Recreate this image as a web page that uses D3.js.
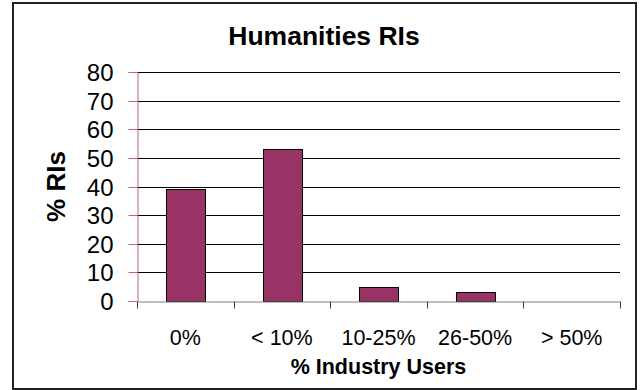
<!DOCTYPE html>
<html><head><meta charset="utf-8">
<script src="https://cdn.jsdelivr.net/npm/d3@7"></script>
<style>body{margin:0;background:#fff}svg{display:block}text{font-family:"Liberation Sans",Arial,sans-serif}</style>
</head><body>
<script>
const categories = ["0%", "< 10%", "10-25%", "26-50%", "> 50%"];
const values = [39, 53, 5, 3, 0];
const yTicks = [0, 10, 20, 30, 40, 50, 60, 70, 80];
const title = "Humanities RIs";
const xTitle = "% Industry Users";
const yTitle = "% RIs";

const W = 644, H = 390;
const m = {left: 137, right: 620, top: 72, bottom: 301};
const svg = d3.select("body").append("svg").attr("width", W).attr("height", H);

svg.append("rect").attr("x", 13).attr("y", 3).attr("width", 623).attr("height", 386)
  .attr("fill", "#fff").attr("stroke", "#222").attr("stroke-width", 2);

const x = d3.scaleBand().domain(categories).range([m.left, m.right]).paddingInner(0).paddingOuter(0);
const y = d3.scaleLinear().domain([0, 80]).range([m.bottom, m.top]);

// gridlines
svg.append("g").selectAll("line").data(yTicks.filter(d => d > 0)).join("line")
  .attr("x1", m.left).attr("x2", m.right)
  .attr("y1", d => Math.round(y(d)) + 0.5).attr("y2", d => Math.round(y(d)) + 0.5)
  .attr("stroke", "#000").attr("stroke-width", 1);

// bars
const bw = x.bandwidth() * 0.4;
svg.append("g").selectAll("rect").data(values).join("rect")
  .attr("x", (d, i) => Math.round(x(categories[i]) + (x.bandwidth() - bw) / 2) + 0.5)
  .attr("y", d => Math.round(y(d)) + 0.5)
  .attr("width", Math.round(bw))
  .attr("height", d => Math.round(y(0)) - Math.round(y(d)))
  .attr("fill", "#993366").attr("stroke", "#000").attr("stroke-width", 1)
  .attr("display", d => d > 0 ? null : "none");

// x axis
const xAxis = d3.axisBottom(x).tickSize(0).tickFormat(d => d);
const gx = svg.append("g").attr("transform", `translate(0,${Math.round(y(0)) + 0.5})`).call(xAxis);
gx.select(".domain").attr("stroke", "#808080");
gx.selectAll("text").attr("font-size", 21.5).attr("fill", "#000").attr("dy", null).attr("y", 43);
// category boundary ticks
const bounds = categories.map(c => x(c)).concat([m.right]);
gx.append("g").selectAll("line").data(bounds).join("line")
  .attr("x1", d => Math.round(d) + 0.5).attr("x2", d => Math.round(d) + 0.5)
  .attr("y1", 0).attr("y2", 7).attr("stroke", "#404040");

// y axis
const yAxis = d3.axisLeft(y).tickValues(yTicks).tickSize(9).tickPadding(15);
const gy = svg.append("g").attr("transform", `translate(${m.left + 0.5},0)`).call(yAxis);
gy.select(".domain").attr("stroke", "#c0608f");
gy.selectAll(".tick line").attr("stroke", "#c0608f");
gy.selectAll(".tick").attr("transform", d => `translate(0,${Math.round(y(d)) + 0.5})`);
gy.selectAll("text").attr("font-size", 24).attr("fill", "#000").attr("dy", "0.36em");

// titles
svg.append("text").attr("x", 324).attr("y", 45).attr("text-anchor", "middle")
  .attr("font-size", 26.5).attr("font-weight", "bold").text(title);
svg.append("text").attr("x", (m.left + m.right) / 2).attr("y", 374).attr("text-anchor", "middle")
  .attr("font-size", 21.5).attr("font-weight", "bold").text(xTitle);
svg.append("text").attr("transform", `translate(65,${(m.top + m.bottom) / 2}) rotate(-90)`)
  .attr("text-anchor", "middle").attr("font-size", 26).attr("font-weight", "bold").text(yTitle);
</script>
</body></html>
